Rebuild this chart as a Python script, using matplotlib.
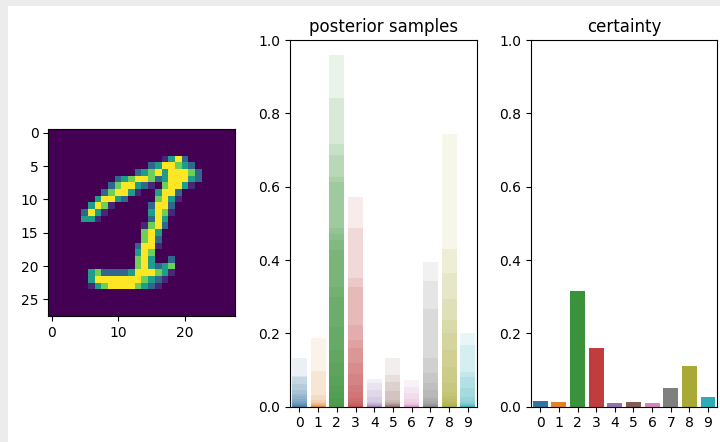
import colorsys
import numpy as np
import matplotlib
matplotlib.use("Agg")
import matplotlib.pyplot as plt
import matplotlib.colors as mcolors
from matplotlib.patches import Rectangle

# digit image, one string per row: . = 0, 1..9 = intensity in ninths
digit_rows = [
    "............................",
    "............................",
    "............................",
    "............................",
    ".................1593.......",
    "...............3599753......",
    ".............3579599973.....",
    "..........3579973599953.....",
    ".........3799531.79951......",
    "........379951..5993........",
    ".......59953....7951........",
    "......5971.....3993.........",
    ".....3951......5971.........",
    ".....551.......395..........",
    "..............1793..........",
    "..............795...........",
    "..............793...........",
    ".............3991...........",
    ".............597............",
    ".............795..3.........",
    ".............795357.........",
    "......5733335999751.........",
    "......599999997531..........",
    "......15799997531...........",
    "............................",
    "............................",
    "............................",
    "............................",
]

classes = [str(i) for i in range(10)]

# posterior samples, 20 draws per class (sorted)
post_0 = [0.132, 0.084, 0.080, 0.063, 0.045, 0.035, 0.030, 0.022, 0.015, 0.012,
          0.010, 0.008, 0.006, 0.005, 0.004, 0.003, 0.002, 0.002, 0.001, 0.001]
post_1 = [0.186, 0.098, 0.032, 0.018, 0.012, 0.010, 0.008, 0.006, 0.005, 0.004,
          0.003, 0.003, 0.002, 0.002, 0.001, 0.001, 0.001, 0.001, 0.0, 0.0]
post_2 = [0.959, 0.841, 0.716, 0.686, 0.627, 0.614, 0.486, 0.470, 0.455, 0.427,
          0.327, 0.300, 0.218, 0.155, 0.120, 0.085, 0.060, 0.040, 0.020, 0.010]
post_3 = [0.573, 0.486, 0.350, 0.327, 0.223, 0.182, 0.159, 0.120, 0.090, 0.060,
          0.040, 0.025, 0.015, 0.010, 0.008, 0.005, 0.003, 0.002, 0.001, 0.001]
post_4 = [0.075, 0.064, 0.045, 0.027, 0.014, 0.010, 0.008, 0.006, 0.005, 0.004,
          0.003, 0.002, 0.002, 0.001, 0.001, 0.001, 0.0, 0.0, 0.0, 0.0]
post_5 = [0.132, 0.086, 0.068, 0.044, 0.018, 0.012, 0.010, 0.008, 0.006, 0.005,
          0.004, 0.003, 0.002, 0.002, 0.001, 0.001, 0.001, 0.0, 0.0, 0.0]
post_6 = [0.073, 0.055, 0.036, 0.020, 0.012, 0.008, 0.006, 0.005, 0.004, 0.003,
          0.002, 0.002, 0.001, 0.001, 0.001, 0.0, 0.0, 0.0, 0.0, 0.0]
post_7 = [0.394, 0.344, 0.266, 0.132, 0.091, 0.064, 0.045, 0.027, 0.020, 0.015,
          0.010, 0.008, 0.006, 0.005, 0.004, 0.003, 0.002, 0.002, 0.001, 0.001]
post_8 = [0.744, 0.429, 0.364, 0.294, 0.236, 0.200, 0.155, 0.109, 0.064, 0.040,
          0.030, 0.020, 0.015, 0.010, 0.008, 0.006, 0.004, 0.003, 0.002, 0.001]
post_9 = [0.200, 0.168, 0.095, 0.082, 0.050, 0.027, 0.015, 0.010, 0.008, 0.006,
          0.005, 0.004, 0.003, 0.002, 0.002, 0.001, 0.001, 0.001, 0.0, 0.0]

certainty = [0.015, 0.012, 0.315, 0.160, 0.009, 0.012, 0.009, 0.050, 0.110, 0.027]

# build arrays
img = np.array([[0.0 if ch == "." else int(ch) / 9.0 for ch in row] for row in digit_rows])
posterior = np.array([post_0, post_1, post_2, post_3, post_4,
                      post_5, post_6, post_7, post_8, post_9])

def desat(c, s=0.75):
    h, l, sat = colorsys.rgb_to_hls(*mcolors.to_rgb(c))
    return colorsys.hls_to_rgb(h, l, sat * s)

colors = [desat(c) for c in plt.get_cmap("tab10").colors]

fig = plt.figure(figsize=(7.2, 4.42), dpi=100, facecolor="#ececec")
fig.add_artist(Rectangle((8 / 720, 0), 1, 1 - 6 / 442, transform=fig.transFigure,
                         facecolor="white", edgecolor="none", zorder=-1))

# digit
ax1 = fig.add_axes([0.067, 0.285, 0.2593, 0.4224])
ax1.imshow(img, cmap="viridis")
ax1.set_xticks([0, 10, 20])
ax1.set_yticks([0, 5, 10, 15, 20, 25])

x = np.arange(10)

# posterior samples
ax2 = fig.add_axes([0.4028, 0.0799, 0.260, 0.8296])
for i in range(posterior.shape[1]):
    ax2.bar(x, posterior[:, i], width=0.8, color=colors, alpha=0.1, linewidth=0)
ax2.set_xlim(-0.5, 9.5)
ax2.set_ylim(0, 1)
ax2.set_xticks(x)
ax2.set_xticklabels(classes)
ax2.set_title("posterior samples")

# certainty
ax3 = fig.add_axes([0.7375, 0.0799, 0.2588, 0.8296])
ax3.bar(x, certainty, width=0.8, color=colors, linewidth=0)
ax3.set_xlim(-0.5, 9.5)
ax3.set_ylim(0, 1)
ax3.set_xticks(x)
ax3.set_xticklabels(classes)
ax3.set_title("certainty")

fig.savefig("out.png", dpi=100, facecolor=fig.get_facecolor())
